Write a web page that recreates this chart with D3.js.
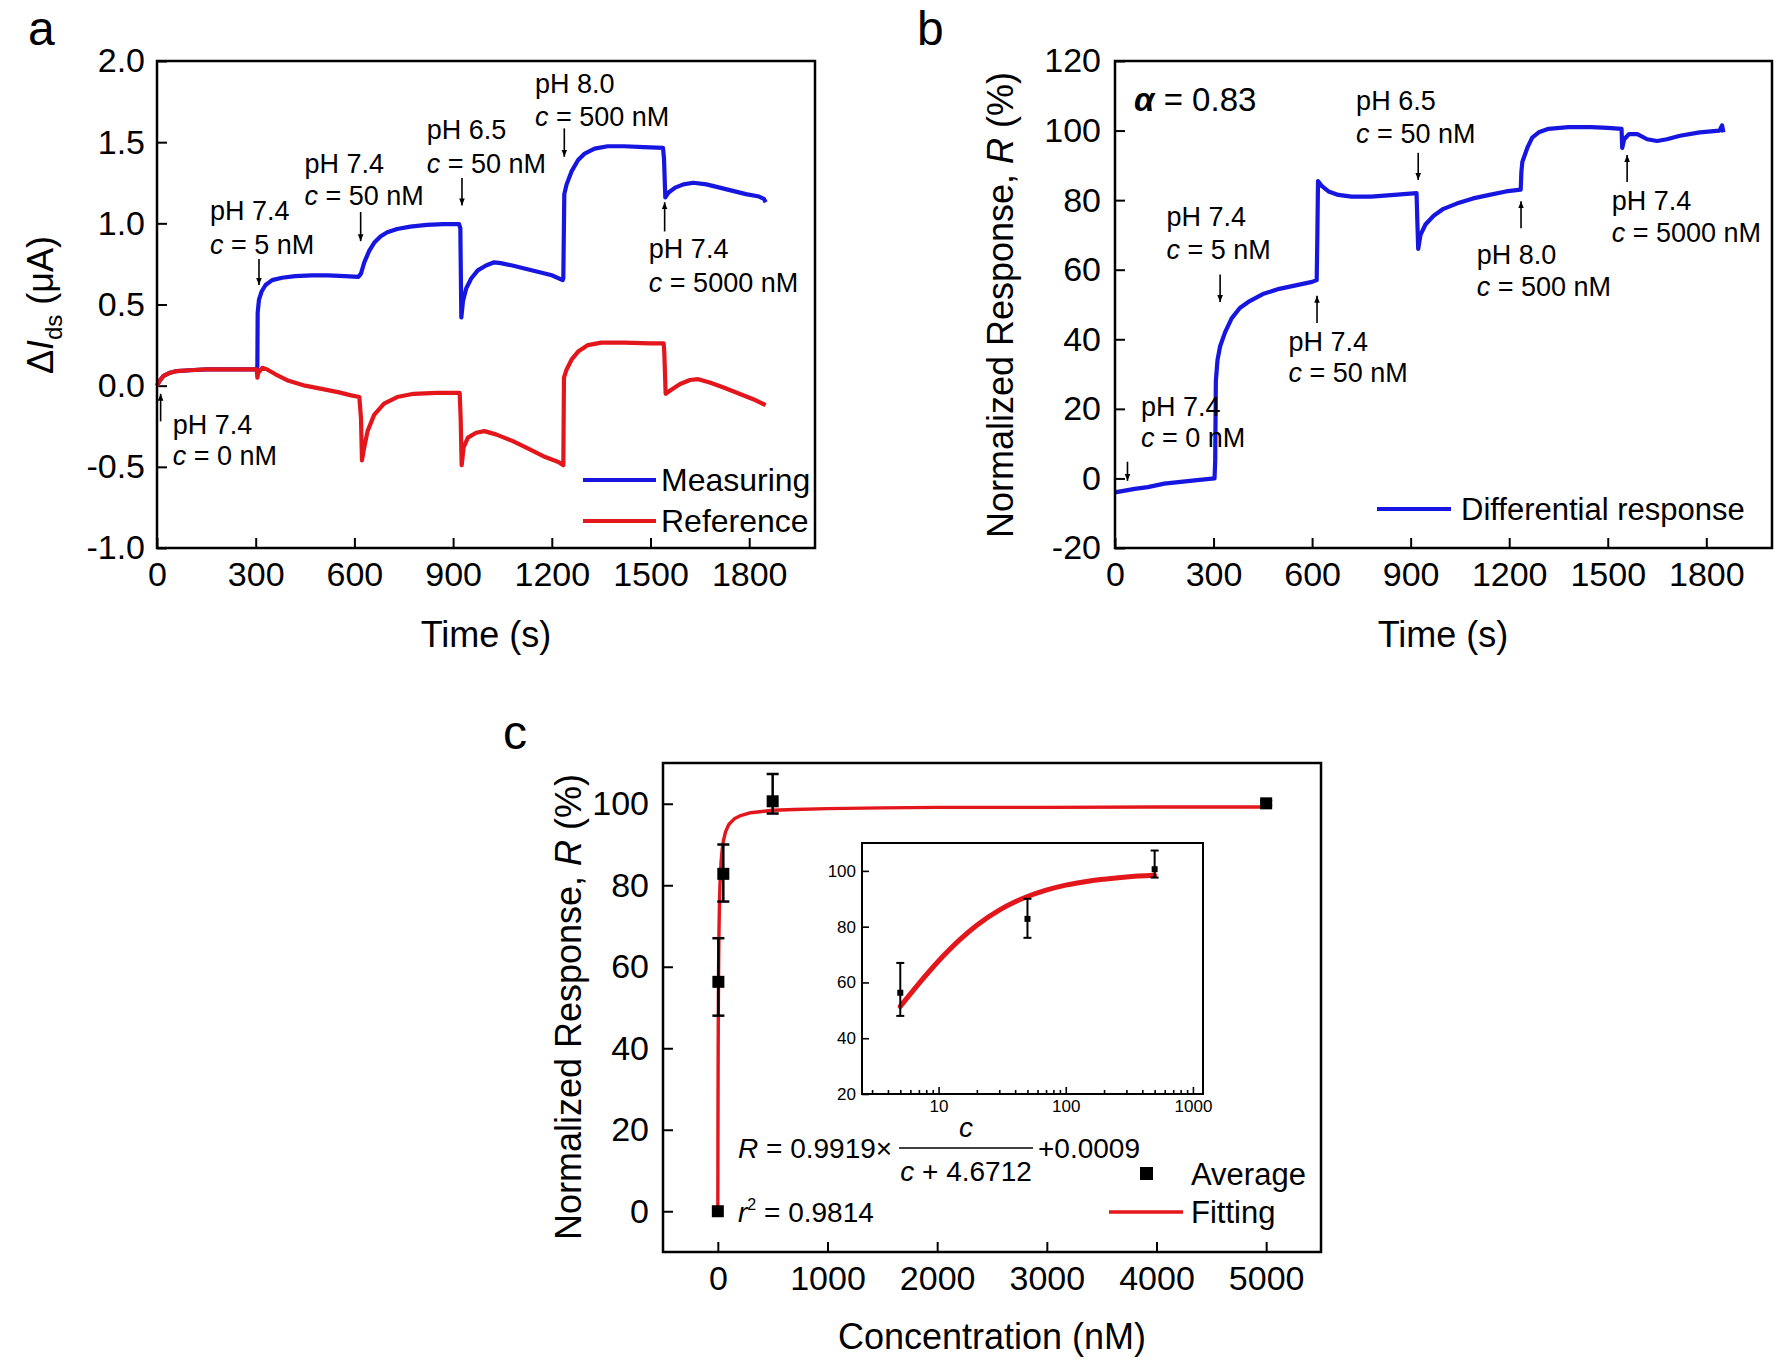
<!DOCTYPE html>
<html><head><meta charset="utf-8">
<script src="https://cdn.jsdelivr.net/npm/d3@7"></script>
<style>
body{margin:0;background:#fff;}
svg{display:block;font-family:"Liberation Sans",Arial,sans-serif;}
</style></head><body>
<svg id="chart" width="1780" height="1366"></svg>
<script>
// ---------------- data ----------------
const timeTicks = [0, 300, 600, 900, 1200, 1500, 1800];
const currentTicks = [-1.0, -0.5, 0.0, 0.5, 1.0, 1.5, 2.0];
const responseTicks = [-20, 0, 20, 40, 60, 80, 100, 120];
const concTicks = [0, 1000, 2000, 3000, 4000, 5000];
const concRespTicks = [0, 20, 40, 60, 80, 100];
const insetXTicks = [10, 100, 1000];
const insetYTicks = [20, 40, 60, 80, 100];

// panel a: measuring channel (time s, ΔIds µA)
const measuring = [[0,0],[8,0.03],[20,0.06],[40,0.08],[60,0.09],[100,0.095],[150,0.1],[200,0.1],[250,0.1],[303,0.1],
 [305,0.12],[306,0.45],[310,0.53],[318,0.58],[330,0.62],[350,0.65],[380,0.665],[420,0.675],[470,0.68],[520,0.68],[570,0.675],[612,0.67],
 [620,0.69],[630,0.76],[645,0.83],[660,0.88],[680,0.92],[700,0.945],[730,0.965],[770,0.98],[820,0.99],[870,0.995],[918,0.995],
 [922,0.97],[925,0.42],[930,0.52],[940,0.6],[955,0.66],[975,0.71],[1000,0.74],[1025,0.76],[1045,0.755],[1080,0.74],[1120,0.72],[1160,0.7],[1200,0.68],[1233,0.65],
 [1235,0.66],[1238,1.18],[1245,1.24],[1260,1.32],[1280,1.39],[1300,1.43],[1330,1.46],[1370,1.475],[1420,1.475],[1480,1.47],[1538,1.465],
 [1541,1.4],[1545,1.16],[1555,1.19],[1575,1.22],[1600,1.24],[1630,1.25],[1670,1.24],[1710,1.22],[1750,1.2],[1790,1.18],[1830,1.165],[1845,1.15],[1850,1.13]];
// panel a: reference channel
const reference = [[0,0],[8,0.03],[20,0.06],[40,0.08],[60,0.09],[100,0.095],[150,0.1],[200,0.1],[250,0.1],[303,0.1],
 [305,0.05],[308,0.08],[320,0.11],[335,0.1],[360,0.07],[400,0.03],[450,0.0],[500,-0.02],[550,-0.04],[590,-0.06],[615,-0.07],
 [620,-0.2],[623,-0.46],[628,-0.4],[640,-0.28],[660,-0.18],[690,-0.11],[730,-0.07],[780,-0.05],[850,-0.045],[920,-0.045],
 [923,-0.2],[926,-0.49],[932,-0.38],[945,-0.32],[970,-0.29],[995,-0.28],[1030,-0.3],[1080,-0.34],[1130,-0.39],[1180,-0.44],[1220,-0.47],[1235,-0.49],
 [1237,0.05],[1245,0.1],[1260,0.16],[1280,0.21],[1310,0.25],[1350,0.265],[1420,0.265],[1500,0.26],[1540,0.26],
 [1542,0.2],[1546,-0.05],[1560,-0.03],[1590,0.01],[1620,0.035],[1645,0.04],[1680,0.02],[1720,-0.01],[1770,-0.05],[1820,-0.09],[1850,-0.12]];
// panel b: differential response (time s, R %)
const differential = [[0,-4],[30,-3.5],[60,-3],[100,-2.5],[150,-1.5],[200,-1],[250,-0.5],[303,0],
 [305,5],[307,28],[312,34],[320,38],[335,42],[355,46],[380,49],[410,51],[450,53],[500,54.5],[550,55.5],[600,56.5],[614,57],
 [616,70],[618,85.5],[630,84],[650,82.5],[680,81.5],[720,81],[780,81],[850,81.5],[918,82],
 [920,75],[923,66],[930,70],[945,73],[970,75.5],[1000,77.5],[1040,79],[1090,80.5],[1140,81.5],[1190,82.5],[1235,83],
 [1237,88],[1240,91],[1255,95],[1270,98],[1290,99.5],[1320,100.5],[1380,101],[1450,101],[1500,100.8],[1542,100.5],
 [1544,95],[1550,97.5],[1565,99],[1590,99],[1620,97.5],[1650,97],[1680,97.5],[1720,98.5],[1780,99.5],[1840,100],[1848,101.5],[1852,99.5]];
// panel c: averages with error bars
const avgConc = [0, 5, 50, 500, 5000];
const avgResp = [0, 56.3, 82.8, 100.6, 100.1];
const errLow  = [0, 48, 76, 97.6, 99.6];
const errHigh = [0, 67, 90, 107.3, 100.7];
// panel c: fitting curve
const fitConc = [0,0.5,1,2,3,4,5,7,10,15,20,30,40,50,70,100,150,200,300,500,700,1000,1500,2000,3000,4000,5000];
const fitResp = [0.1,9.7,17.6,29.8,38.9,45.8,51.4,59.6,67.7,75.7,80.5,85.9,88.9,90.8,93.1,94.9,96.3,97.0,97.8,98.4,98.6,98.8,99.0,99.1,99.1,99.2,99.2];

// annotations (data coordinates)
const annA = [
 {t:48, v1:-0.296, v2:-0.49, ph:"pH 7.4", c:"0 nM", at:11, from:-0.22, to:-0.05},
 {t:161, v1:1.02, v2:0.81, ph:"pH 7.4", c:"5 nM", at:310, from:0.78, to:0.62},
 {t:448, v1:1.31, v2:1.11, ph:"pH 7.4", c:"50 nM", at:619, from:1.07, to:0.89},
 {t:820, v1:1.52, v2:1.31, ph:"pH 6.5", c:"50 nM", at:927, from:1.28, to:1.11},
 {t:1149, v1:1.80, v2:1.60, ph:"pH 8.0", c:"500 nM", at:1238, from:1.585, to:1.41},
 {t:1495, v1:0.786, v2:0.58, ph:"pH 7.4", c:"5000 nM", at:1543, from:0.95, to:1.13}
];
const annB = [
 {t:79, v1:18.0, v2:9.0, ph:"pH 7.4", c:"0 nM", at:38, from:4.8, to:-0.7},
 {t:157, v1:72.5, v2:63.2, ph:"pH 7.4", c:"5 nM", at:320, from:58.6, to:50.7},
 {t:528, v1:36.6, v2:27.7, ph:"pH 7.4", c:"50 nM", at:615, from:44.7, to:52.5},
 {t:734, v1:106, v2:96.5, ph:"pH 6.5", c:"50 nM", at:923, from:93.6, to:85.8},
 {t:1101, v1:61.6, v2:52.3, ph:"pH 8.0", c:"500 nM", at:1236, from:71.9, to:79.7},
 {t:1512, v1:77.3, v2:68.0, ph:"pH 7.4", c:"5000 nM", at:1559, from:85.2, to:93.0}
];

// ---------------- drawing ----------------
const BLUE = "#1616e0", RED = "#e3161b";
const svg = d3.select("#chart");
svg.append("rect").attr("width",1780).attr("height",1366).attr("fill","#fff");
const defs = svg.append("defs");
defs.append("marker").attr("id","ah").attr("viewBox","0 0 10 10").attr("refX",10).attr("refY",5)
 .attr("markerWidth",7).attr("markerHeight",7).attr("markerUnits","userSpaceOnUse").attr("orient","auto")
 .append("path").attr("d","M0,1 L10,5 L0,9 Z").attr("fill","#000");

function styleAxis(sel, fs, sw){
  sel.select(".domain").remove();
  sel.selectAll("line").attr("stroke","#000").attr("stroke-width",sw);
  sel.selectAll("text").attr("font-size",fs).attr("fill","#000").attr("font-family","Liberation Sans, Arial, sans-serif");
}
function frame(p, sw){
  svg.append("rect").attr("x",p.left).attr("y",p.top).attr("width",p.right-p.left).attr("height",p.bottom-p.top)
   .attr("fill","none").attr("stroke","#000").attr("stroke-width",sw);
}
function annotate(list, x, y){
  const g = svg.append("g");
  list.forEach(a=>{
    g.append("text").attr("x",x(a.t)).attr("y",y(a.v1)).attr("font-size",27).text(a.ph);
    const t2 = g.append("text").attr("x",x(a.t)).attr("y",y(a.v2)).attr("font-size",27);
    t2.append("tspan").attr("font-style","italic").text("c");
    t2.append("tspan").text(" = " + a.c);
    g.append("line").attr("x1",x(a.at)).attr("x2",x(a.at)).attr("y1",y(a.from)).attr("y2",y(a.to))
     .attr("stroke","#000").attr("stroke-width",1.6).attr("marker-end","url(#ah)");
  });
}
const fmt1 = d => d.toFixed(1);
const fmt0 = d => String(d);

// ===== Panel a =====
const pA = {left:157, right:815, top:61, bottom:548};
const xA = d3.scaleLinear().domain([0,2000]).range([pA.left,pA.right]);
const yA = d3.scaleLinear().domain([-1,2]).range([pA.bottom,pA.top]);
styleAxis(svg.append("g").attr("transform",`translate(0,${pA.bottom})`)
  .call(d3.axisBottom(xA).tickValues(timeTicks).tickFormat(fmt0).tickSizeInner(-10).tickSizeOuter(0).tickPadding(14)),34,2);
styleAxis(svg.append("g").attr("transform",`translate(${pA.left},0)`)
  .call(d3.axisLeft(yA).tickValues(currentTicks).tickFormat(fmt1).tickSizeInner(-10).tickSizeOuter(0).tickPadding(12)),34,2);
const lineA = d3.line().x(d=>xA(d[0])).y(d=>yA(d[1]));
svg.append("path").datum(measuring).attr("d",lineA).attr("fill","none").attr("stroke",BLUE).attr("stroke-width",4.2).attr("stroke-linejoin","round");
svg.append("path").datum(reference).attr("d",lineA).attr("fill","none").attr("stroke",RED).attr("stroke-width",4.2).attr("stroke-linejoin","round");
frame(pA,2.5);
annotate(annA, xA, yA);
// legend a
[[BLUE,"Measuring",480],[RED,"Reference",521]].forEach(([c,t,yy])=>{
  svg.append("line").attr("x1",583).attr("x2",656).attr("y1",yy).attr("y2",yy).attr("stroke",c).attr("stroke-width",3.8);
  svg.append("text").attr("x",661).attr("y",yy+11).attr("font-size",32).text(t);
});
svg.append("text").attr("x",486).attr("y",647).attr("text-anchor","middle").attr("font-size",36).text("Time (s)");
{
  const t = svg.append("text").attr("transform","translate(53,305) rotate(-90)").attr("text-anchor","middle").attr("font-size",36);
  t.append("tspan").text("\u0394");
  t.append("tspan").attr("font-style","italic").text("I");
  t.append("tspan").attr("font-size",24).attr("dy",9).text("ds");
  t.append("tspan").attr("dy",-9).text(" (\u03bcA)");
}
svg.append("text").attr("x",28).attr("y",45).attr("font-size",48).text("a");

// ===== Panel b =====
const pB = {left:1115, right:1772, top:61, bottom:548};
const xB = d3.scaleLinear().domain([0,2000]).range([pB.left,pB.right]);
const yB = d3.scaleLinear().domain([-20,120]).range([pB.bottom,pB.top]);
styleAxis(svg.append("g").attr("transform",`translate(0,${pB.bottom})`)
  .call(d3.axisBottom(xB).tickValues(timeTicks).tickFormat(fmt0).tickSizeInner(-10).tickSizeOuter(0).tickPadding(14)),34,2);
styleAxis(svg.append("g").attr("transform",`translate(${pB.left},0)`)
  .call(d3.axisLeft(yB).tickValues(responseTicks).tickFormat(fmt0).tickSizeInner(-10).tickSizeOuter(0).tickPadding(14)),34,2);
const lineB = d3.line().x(d=>xB(d[0])).y(d=>yB(d[1]));
svg.append("path").datum(differential).attr("d",lineB).attr("fill","none").attr("stroke",BLUE).attr("stroke-width",4.2).attr("stroke-linejoin","round");
frame(pB,2.5);
annotate(annB, xB, yB);
{
  const t = svg.append("text").attr("x",xB(58)).attr("y",yB(105.5)).attr("font-size",33);
  t.append("tspan").attr("font-weight","bold").attr("font-style","italic").text("\u03b1");
  t.append("tspan").text(" = 0.83");
}
svg.append("line").attr("x1",1377).attr("x2",1451).attr("y1",509).attr("y2",509).attr("stroke",BLUE).attr("stroke-width",3.8);
svg.append("text").attr("x",1461).attr("y",520).attr("font-size",31).text("Differential response");
svg.append("text").attr("x",1443).attr("y",647).attr("text-anchor","middle").attr("font-size",36).text("Time (s)");
{
  const t = svg.append("text").attr("transform","translate(1013,305) rotate(-90)").attr("text-anchor","middle").attr("font-size",36);
  t.append("tspan").text("Normalized Response, ");
  t.append("tspan").attr("font-style","italic").text("R");
  t.append("tspan").text(" (%)");
}
svg.append("text").attr("x",917).attr("y",45).attr("font-size",48).text("b");

// ===== Panel c =====
const pC = {left:663, right:1321, top:763, bottom:1252};
const xC = d3.scaleLinear().domain([-500,5500]).range([pC.left,pC.right]);
const yC = d3.scaleLinear().domain([-10,110]).range([pC.bottom,pC.top]);
styleAxis(svg.append("g").attr("transform",`translate(0,${pC.bottom})`)
  .call(d3.axisBottom(xC).tickValues(concTicks).tickFormat(fmt0).tickSizeInner(-10).tickSizeOuter(0).tickPadding(14)),34,2);
styleAxis(svg.append("g").attr("transform",`translate(${pC.left},0)`)
  .call(d3.axisLeft(yC).tickValues(concRespTicks).tickFormat(fmt0).tickSizeInner(-10).tickSizeOuter(0).tickPadding(14)),34,2);
const fitData = fitConc.map((c,i)=>[c, fitResp[i]]);
svg.append("path").datum(fitData).attr("d", d3.line().x(d=>xC(d[0])).y(d=>yC(d[1])))
  .attr("fill","none").attr("stroke",RED).attr("stroke-width",3.4).attr("stroke-linejoin","round");
const avg = avgConc.map((c,i)=>({c, r:avgResp[i], lo:errLow[i], hi:errHigh[i]}));
const eb = svg.append("g");
avg.filter(d=>d.hi>d.lo).forEach(d=>{
  const x = xC(d.c);
  eb.append("line").attr("x1",x).attr("x2",x).attr("y1",yC(d.lo)).attr("y2",yC(d.hi)).attr("stroke","#000").attr("stroke-width",2.5);
  [d.lo,d.hi].forEach(v=>eb.append("line").attr("x1",x-6).attr("x2",x+6).attr("y1",yC(v)).attr("y2",yC(v)).attr("stroke","#000").attr("stroke-width",2.5));
});
svg.append("g").selectAll("rect").data(avg).join("rect")
  .attr("x",d=>xC(d.c)-6).attr("y",d=>yC(d.r)-6).attr("width",12).attr("height",12).attr("fill","#000");
frame(pC,2.5);

// inset
const pI = {left:862, right:1203, top:843, bottom:1094};
svg.append("rect").attr("x",pI.left).attr("y",pI.top).attr("width",pI.right-pI.left).attr("height",pI.bottom-pI.top).attr("fill","#fff");
const xI = d3.scaleLog().domain([2.5,1200]).range([pI.left,pI.right]);
const yI = d3.scaleLinear().domain([20,110]).range([pI.bottom,pI.top]);
const minorI = [];
[1,10,100].forEach(dec=>{ for(let k=2;k<=9;k++){ const v=k*dec; if(v>=3 && v<=1200 && !insetXTicks.includes(v)) minorI.push(v);} });
styleAxis(svg.append("g").attr("transform",`translate(0,${pI.bottom})`)
  .call(d3.axisBottom(xI).tickValues(minorI).tickFormat("").tickSizeInner(-4).tickSizeOuter(0)),17,1.6);
styleAxis(svg.append("g").attr("transform",`translate(0,${pI.bottom})`)
  .call(d3.axisBottom(xI).tickValues(insetXTicks).tickFormat(fmt0).tickSizeInner(-7).tickSizeOuter(0).tickPadding(6)),17,1.6);
styleAxis(svg.append("g").attr("transform",`translate(${pI.left},0)`)
  .call(d3.axisLeft(yI).tickValues(insetYTicks).tickFormat(fmt0).tickSizeInner(-7).tickSizeOuter(0).tickPadding(6)),17,1.6);
const fitInset = fitData.filter(d=>d[0]>=5 && d[0]<=500);
svg.append("path").datum(fitInset).attr("d", d3.line().x(d=>xI(d[0])).y(d=>yI(d[1])).curve(d3.curveMonotoneX))
  .attr("fill","none").attr("stroke",RED).attr("stroke-width",5).attr("stroke-linecap","round");
const avgI = avg.filter(d=>d.c>=5 && d.c<=500);
avgI.forEach(d=>{
  const x = xI(d.c);
  svg.append("line").attr("x1",x).attr("x2",x).attr("y1",yI(d.lo)).attr("y2",yI(d.hi)).attr("stroke","#000").attr("stroke-width",2);
  [d.lo,d.hi].forEach(v=>svg.append("line").attr("x1",x-4).attr("x2",x+4).attr("y1",yI(v)).attr("y2",yI(v)).attr("stroke","#000").attr("stroke-width",2));
  svg.append("rect").attr("x",x-3).attr("y",yI(d.r)-3).attr("width",6).attr("height",6).attr("fill","#000");
});
frame(pI,2);

// equation
{
  const eq = svg.append("g").attr("font-size",28);
  const t1 = eq.append("text").attr("x",738).attr("y",1158);
  t1.append("tspan").attr("font-style","italic").text("R");
  t1.append("tspan").text(" = 0.9919\u00d7");
  eq.append("line").attr("x1",899).attr("x2",1033).attr("y1",1148).attr("y2",1148).attr("stroke","#000").attr("stroke-width",1.5);
  eq.append("text").attr("x",966).attr("y",1137).attr("text-anchor","middle").attr("font-style","italic").text("c");
  const den = eq.append("text").attr("x",966).attr("y",1181).attr("text-anchor","middle");
  den.append("tspan").attr("font-style","italic").text("c");
  den.append("tspan").text(" + 4.6712");
  eq.append("text").attr("x",1038).attr("y",1158).text("+0.0009");
  const r2 = eq.append("text").attr("x",738).attr("y",1222);
  r2.append("tspan").attr("font-style","italic").text("r");
  r2.append("tspan").attr("font-size",16).attr("dy",-12).text("2");
  r2.append("tspan").attr("dy",12).text(" = 0.9814");
}
// legend c
svg.append("rect").attr("x",1140).attr("y",1167).attr("width",13).attr("height",13).attr("fill","#000");
svg.append("text").attr("x",1191).attr("y",1185).attr("font-size",31).text("Average");
svg.append("line").attr("x1",1109).attr("x2",1183).attr("y1",1212).attr("y2",1212).attr("stroke",RED).attr("stroke-width",3.4);
svg.append("text").attr("x",1191).attr("y",1223).attr("font-size",31).text("Fitting");
svg.append("text").attr("x",992).attr("y",1349).attr("text-anchor","middle").attr("font-size",36).text("Concentration (nM)");
{
  const t = svg.append("text").attr("transform","translate(581,1007) rotate(-90)").attr("text-anchor","middle").attr("font-size",36);
  t.append("tspan").text("Normalized Response, ");
  t.append("tspan").attr("font-style","italic").text("R");
  t.append("tspan").text(" (%)");
}
svg.append("text").attr("x",503).attr("y",749).attr("font-size",48).text("c");
</script>
</body></html>
